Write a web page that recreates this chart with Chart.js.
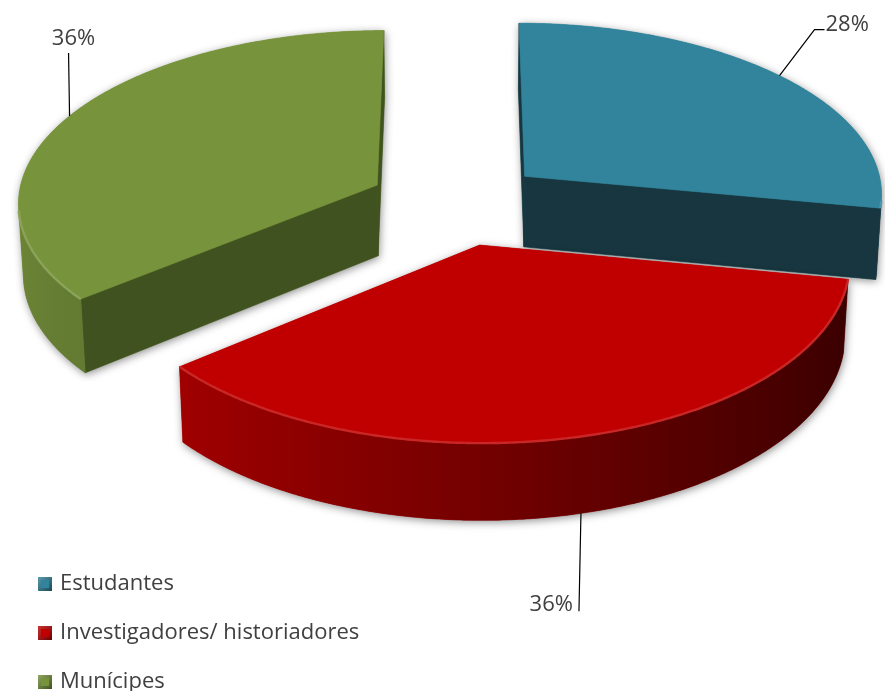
<!DOCTYPE html>
<html>
<head>
<meta charset="utf-8">
<script src="https://cdn.jsdelivr.net/npm/chart.js@4.4.1/dist/chart.umd.min.js"></script>
<style>
  html, body { margin: 0; padding: 0; background: #ffffff; }
  #wrap { width: 885px; height: 691px; position: relative; overflow: hidden; }
</style>
</head>
<body>
<div id="wrap"><canvas id="chart" width="885" height="691"></canvas></div>
<script>
// Survey respondents by group (percent)
const categories = ['Estudantes', 'Investigadores/ historiadores', 'Munícipes'];
const shares = [28, 36, 36];
const shareLabels = ['28%', '36%', '36%'];
const explodeBy = [89, 89, 89];

// Colours of each slice: top face, cut faces
const topColors = ['#31849B', '#C00000', '#77933C'];
const cutColors = ['#17363F', '#6A0000', '#40521F'];

// Perspective view of the pie disc
const VIEW = {
  cx: 457, cy: 203,
  tilt: 28.5 * Math.PI / 180,
  focal: 3460,
  radius: 360,
  height: 82
};
const SIN_T = Math.sin(VIEW.tilt), COS_T = Math.cos(VIEW.tilt);
const CAMERA = [0, VIEW.focal * SIN_T, -VIEW.focal * COS_T];

function project(X, Y, Z) {
  const u = Y * COS_T + Z * SIN_T;
  const d = Z * COS_T - Y * SIN_T;
  const s = VIEW.focal / (VIEW.focal + d);
  return [VIEW.cx + X * s, VIEW.cy - u * s];
}

function hexRgb(h) {
  const n = parseInt(h.slice(1), 16);
  return [(n >> 16) & 255, (n >> 8) & 255, n & 255];
}
function shade(h, f) {
  const c = hexRgb(h).map(v => Math.max(0, Math.min(255, Math.round(v * f))));
  return 'rgb(' + c.join(',') + ')';
}
function lighten(h, f) {
  const c = hexRgb(h).map(v => Math.round(v + (255 - v) * f));
  return 'rgb(' + c.join(',') + ')';
}

function facing(n, p) {
  return n[0] * (CAMERA[0] - p[0]) + n[1] * (CAMERA[1] - p[1]) + n[2] * (CAMERA[2] - p[2]) > 0;
}

function pathPoly(ctx, pts) {
  ctx.moveTo(pts[0][0], pts[0][1]);
  for (let i = 1; i < pts.length; i++) ctx.lineTo(pts[i][0], pts[i][1]);
  ctx.closePath();
}

// Build the visible faces of one exploded slice (angles clockwise from the back)
function sliceFaces(th0, th1, off, idx) {
  const mid = (th0 + th1) / 2;
  const ox = off * Math.sin(mid), oz = off * Math.cos(mid);
  const R = VIEW.radius, H = VIEW.height;
  const w = (th, r, y) => [ox + r * Math.sin(th), y, oz + r * Math.cos(th)];
  const pr = p => project(p[0], p[1], p[2]);
  const steps = Math.max(24, Math.ceil((th1 - th0) / (Math.PI / 360)));
  const faces = [];

  // cut faces at both slice edges
  const cuts = [
    { th: th0, n: [-Math.cos(th0), 0, Math.sin(th0)] },
    { th: th1, n: [Math.cos(th1), 0, -Math.sin(th1)] }
  ];
  cuts.forEach(cf => {
    const c3 = w(cf.th, R / 2, -H / 2);
    if (facing(cf.n, c3)) {
      faces.push({
        kind: 'cut',
        pts: [pr(w(0, 0, 0)), pr(w(cf.th, R, 0)), pr(w(cf.th, R, -H)), pr(w(0, 0, -H))],
        fill: cutColors[idx]
      });
    }
  });

  // curved outer wall
  const vis = [];
  for (let i = 0; i <= steps; i++) {
    const th = th0 + (th1 - th0) * i / steps;
    const n = [Math.sin(th), 0, Math.cos(th)];
    vis.push({ th, ok: facing(n, w(th, R, -H / 2)) });
  }
  const run = vis.filter(v => v.ok).map(v => v.th);
  if (run.length > 1) {
    const topArc = run.map(th => pr(w(th, R, 0)));
    const botArc = run.map(th => pr(w(th, R, -H))).reverse();
    faces.push({ kind: 'wall', pts: topArc.concat(botArc), run, topArc });
  }

  // top face
  const top = [pr(w(0, 0, 0))];
  for (let i = 0; i <= steps; i++) {
    const th = th0 + (th1 - th0) * i / steps;
    top.push(pr(w(th, R, 0)));
  }
  faces.push({ kind: 'top', pts: top, fill: topColors[idx] });

  const depth = oz * COS_T;
  const anchorY = Math.cos(mid) < 0 ? -H : 0;
  const anchor = pr(w(mid, R, anchorY));
  return { faces, depth, idx, anchor, mid };
}

function drawSlice(ctx, sl) {
  const idx = sl.idx;
  // soft shadow around the solid
  ctx.save();
  ctx.shadowColor = 'rgba(0,0,0,0.45)';
  ctx.shadowBlur = 9;
  ctx.shadowOffsetX = 1;
  ctx.shadowOffsetY = 2;
  ctx.fillStyle = topColors[idx];
  ctx.beginPath();
  sl.faces.forEach(f => pathPoly(ctx, f.pts));
  ctx.fill();
  ctx.restore();

  sl.faces.forEach(f => {
    ctx.beginPath();
    pathPoly(ctx, f.pts);
    if (f.kind === 'wall') {
      const xs = f.topArc.map(p => p[0]);
      const xa = xs[0], xb = xs[xs.length - 1];
      if (Math.abs(xb - xa) > 1) {
        const g = ctx.createLinearGradient(xa, 0, xb, 0);
        f.run.forEach((th, i) => {
          if (i % 6 && i !== f.run.length - 1) return;
          const t = Math.max(0, Math.min(1, (xs[i] - xa) / (xb - xa)));
          g.addColorStop(t, shade(topColors[idx], 0.6 - 0.3 * Math.sin(th)));
        });
        ctx.fillStyle = g;
      } else {
        ctx.fillStyle = cutColors[idx];
      }
    } else {
      ctx.fillStyle = f.fill;
    }
    ctx.fill();
    ctx.strokeStyle = ctx.fillStyle;
    ctx.lineWidth = 0.6;
    ctx.stroke();
  });

  // bevel highlight along the front rim
  sl.faces.filter(f => f.kind === 'wall' && f.topArc.length > 4).forEach(f => {
    ctx.save();
    ctx.beginPath();
    f.topArc.forEach((p, i) => i ? ctx.lineTo(p[0], p[1]) : ctx.moveTo(p[0], p[1]));
    ctx.strokeStyle = lighten(topColors[idx], 0.15);
    ctx.lineWidth = 2.4;
    ctx.stroke();
    ctx.restore();
  });
}

const LABEL_FONT = '22px "Open Sans", Lato, sans-serif';
const TEXT_COLOR = '#404040';

// Leader line and percentage text for each slice
function drawLabel(ctx, sl) {
  const [ax, ay] = sl.anchor;
  const txt = shareLabels[sl.idx];
  ctx.save();
  ctx.strokeStyle = '#000';
  ctx.lineWidth = 1.2;
  ctx.fillStyle = TEXT_COLOR;
  ctx.font = LABEL_FONT;
  ctx.textBaseline = 'alphabetic';
  ctx.beginPath();
  const s = Math.sin(sl.mid), c = Math.cos(sl.mid);
  if (c < 0) {
    // front slice: line drops below the wall
    const ex = ax - 2, ey = ay + 98;
    ctx.moveTo(ax, ay); ctx.lineTo(ex, ey); ctx.stroke();
    ctx.textAlign = 'right';
    ctx.fillText(txt, ex - 6, ey);
  } else if (s > 0) {
    // back-right slice: elbow up to the right
    const ex = ax + 35, ey = ay - 46;
    ctx.moveTo(ax, ay); ctx.lineTo(ex, ey); ctx.lineTo(ex + 10, ey); ctx.stroke();
    ctx.textAlign = 'left';
    ctx.fillText(txt, ex + 11, ey + 1);
  } else {
    // back-left slice: straight up
    const ex = ax - 1, ey = ay - 63;
    ctx.moveTo(ax, ay); ctx.lineTo(ex, ey); ctx.stroke();
    ctx.textAlign = 'center';
    ctx.fillText(txt, ex + 5, ey - 8);
  }
  ctx.restore();
}

// Vertical legend in the lower-left corner
function drawLegend(ctx) {
  ctx.save();
  ctx.font = LABEL_FONT;
  ctx.textBaseline = 'middle';
  ctx.textAlign = 'left';
  categories.forEach((name, i) => {
    const y = 584 + i * 49;
    const x = 38, b = 14;
    const g = ctx.createLinearGradient(x, y - b / 2, x + b, y + b / 2);
    g.addColorStop(0, lighten(topColors[i], 0.2));
    g.addColorStop(1, shade(topColors[i], 0.55));
    ctx.fillStyle = g;
    ctx.fillRect(x, y - b / 2, b, b);
    ctx.fillStyle = topColors[i];
    ctx.fillRect(x + 3, y - b / 2 + 3, b - 6, b - 6);
    ctx.fillStyle = TEXT_COLOR;
    ctx.fillText(name, x + 22, y);
  });
  ctx.restore();
}

const pie3d = {
  id: 'pie3d',
  beforeDatasetsDraw(chart) {
    const ctx = chart.ctx;
    const meta = chart.getDatasetMeta(0);
    const slices = meta.data.map((arc, i) => {
      const th0 = arc.startAngle + Math.PI / 2;
      const th1 = arc.endAngle + Math.PI / 2;
      return sliceFaces(th0, th1, arc.options.offset, i);
    });
    slices.slice().sort((a, b) => b.depth - a.depth).forEach(sl => drawSlice(ctx, sl));
    slices.forEach(sl => drawLabel(ctx, sl));
    drawLegend(ctx);
    return false;
  }
};

new Chart(document.getElementById('chart'), {
  type: 'pie',
  data: {
    labels: categories,
    datasets: [{
      data: shares,
      backgroundColor: topColors,
      offset: explodeBy,
      borderWidth: 0
    }]
  },
  options: {
    responsive: false,
    devicePixelRatio: 1,
    animation: false,
    events: [],
    plugins: { legend: { display: false }, tooltip: { enabled: false } }
  },
  plugins: [pie3d]
});
</script>
</body>
</html>
